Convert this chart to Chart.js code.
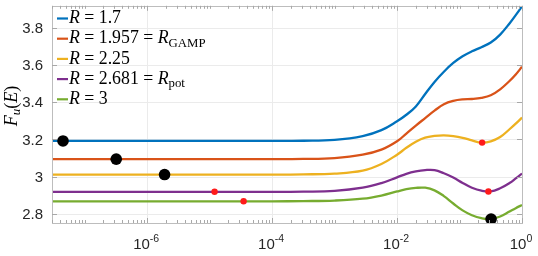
<!DOCTYPE html>
<html>
<head>
<meta charset="utf-8">
<script src="https://cdn.jsdelivr.net/npm/chart.js@4"></script>
<style>
  html, body { margin: 0; padding: 0; background: #fff; }
</style>
</head>
<body>
<canvas id="myChart" width="538" height="256"></canvas>
<script>
// Energy grid (x values) shared by all curves
const energies = [3e-8, 1e-4, 3.16e-4, 1e-3, 2.82e-3, 5.62e-3, 1e-2, 1.41e-2, 2e-2, 2.82e-2, 3.98e-2,
                  5.62e-2, 7.94e-2, 0.112, 0.158, 0.224, 0.316, 0.447, 0.631, 0.794, 1];

// F_u(E) for each R
const fR170  = [3.192, 3.192, 3.193, 3.198, 3.218, 3.250, 3.298, 3.333, 3.378, 3.445, 3.510,
                3.565, 3.612, 3.648, 3.675, 3.697, 3.722, 3.765, 3.825, 3.870, 3.917];
const fR1957 = [3.094, 3.094, 3.095, 3.100, 3.118, 3.145, 3.190, 3.232, 3.275, 3.315, 3.355,
                3.390, 3.408, 3.416, 3.418, 3.424, 3.438, 3.470, 3.515, 3.550, 3.592];
const fR225  = [3.011, 3.011, 3.012, 3.016, 3.032, 3.068, 3.118, 3.155, 3.188, 3.210, 3.219,
                3.222, 3.218, 3.209, 3.195, 3.183, 3.190, 3.213, 3.255, 3.285, 3.318];
const fR2681 = [2.918, 2.918, 2.919, 2.923, 2.940, 2.965, 2.996, 3.015, 3.028, 3.035, 3.035,
                3.018, 2.995, 2.966, 2.940, 2.924, 2.920, 2.937, 2.965, 2.990, 3.016];
const fR3    = [2.867, 2.867, 2.868, 2.871, 2.881, 2.898, 2.920, 2.932, 2.939, 2.940, 2.926,
                2.895, 2.855, 2.818, 2.792, 2.776, 2.771, 2.785, 2.812, 2.830, 2.847];

// marked points
const blackDotE = [4.5e-8, 3.2e-7, 1.9e-6, 0.32];
const blackDotF = [3.192, 3.094, 3.011, 2.771];
const redDotE   = [1.2e-5, 3.5e-5, 0.23, 0.29];
const redDotF   = [2.918, 2.867, 3.183, 2.920];

const seriesColors = ['#0072BD', '#D95319', '#EDB120', '#7E2F8E', '#77AC30'];
const seriesValues = [fR170, fR1957, fR225, fR2681, fR3];

// legend text pieces: [text, italic, subscript]
const legendLabels = [
  [['R', 1, 0], [' = 1.7', 0, 0]],
  [['R', 1, 0], [' = 1.957 = ', 0, 0], ['R', 1, 0], ['GAMP', 0, 1]],
  [['R', 1, 0], [' = 2.25', 0, 0]],
  [['R', 1, 0], [' = 2.681 = ', 0, 0], ['R', 1, 0], ['pot', 0, 1]],
  [['R', 1, 0], [' = 3', 0, 0]]
];
const yTitle = [['F', 1, 0], ['u', 1, 1], ['(', 0, 0], ['E', 1, 0], [')', 0, 0]];

const xLabelExps = [-6, -4, -2, 0];
const yTicks = [2.8, 3, 3.2, 3.4, 3.6, 3.8];

const serif = '"Liberation Serif", "DejaVu Serif", serif';
const sans = '"Liberation Sans", Arial, sans-serif';

function richWidth(ctx, parts, size) {
  let w = 0;
  parts.forEach(p => {
    ctx.font = (p[1] ? 'italic ' : '') + (p[2] ? size * 0.72 : size) + 'px ' + serif;
    w += ctx.measureText(p[0]).width;
  });
  return w;
}

function drawRich(ctx, x, y, parts, size) {
  ctx.textBaseline = 'middle';
  ctx.textAlign = 'left';
  parts.forEach(p => {
    ctx.font = (p[1] ? 'italic ' : '') + (p[2] ? size * 0.72 : size) + 'px ' + serif;
    ctx.fillText(p[0], x, p[2] ? y + size * 0.28 : y);
    x += ctx.measureText(p[0]).width;
  });
}

const axesPlugin = {
  id: 'matlabAxes',
  beforeDraw(chart) {
    const ctx = chart.ctx;
    ctx.save();
    ctx.fillStyle = '#fff';
    ctx.fillRect(0, 0, chart.width, chart.height);
    ctx.restore();
  },
  beforeDatasetsDraw(chart) {
    const { ctx, chartArea: a, scales: { x, y } } = chart;
    ctx.save();
    ctx.strokeStyle = '#ebebeb';
    ctx.lineWidth = 1;
    yTicks.forEach(v => {
      const py = Math.round(y.getPixelForValue(v)) + 0.5;
      ctx.beginPath(); ctx.moveTo(a.left, py); ctx.lineTo(a.right, py); ctx.stroke();
    });
    xLabelExps.forEach(e => {
      const px = Math.round(x.getPixelForValue(Math.pow(10, e))) + 0.5;
      ctx.beginPath(); ctx.moveTo(px, a.top); ctx.lineTo(px, a.bottom); ctx.stroke();
    });
    ctx.restore();
  },
  afterDraw(chart) {
    const { ctx, chartArea: a, scales: { x, y } } = chart;
    ctx.save();
    // box
    ctx.strokeStyle = '#bdbdbd';
    ctx.lineWidth = 1;
    ctx.strokeRect(Math.round(a.left) + 0.5, Math.round(a.top) + 0.5,
                   Math.round(a.right - a.left), Math.round(a.bottom - a.top));
    // x ticks (minor + major), top and bottom
    ctx.strokeStyle = '#a8a8a8';
    for (let e = -8; e <= 0; e++) {
      for (let m = 1; m <= 9; m++) {
        const v = m * Math.pow(10, e);
        if (v < x.min || v > x.max) continue;
        const px = Math.round(x.getPixelForValue(v)) + 0.5;
        const len = (m === 1 && xLabelExps.includes(e)) ? 5 : 3;
        ctx.beginPath();
        ctx.moveTo(px, a.bottom); ctx.lineTo(px, a.bottom - len);
        ctx.moveTo(px, a.top); ctx.lineTo(px, a.top + len);
        ctx.stroke();
      }
    }
    // y ticks left and right
    yTicks.forEach(v => {
      const py = Math.round(y.getPixelForValue(v)) + 0.5;
      ctx.beginPath();
      ctx.moveTo(a.left, py); ctx.lineTo(a.left + 5, py);
      ctx.moveTo(a.right, py); ctx.lineTo(a.right - 5, py);
      ctx.stroke();
    });
    // y tick labels
    ctx.fillStyle = '#262626';
    ctx.font = '15px ' + sans;
    ctx.textAlign = 'right';
    ctx.textBaseline = 'middle';
    yTicks.forEach(v => {
      ctx.fillText(String(v), a.left - 9, y.getPixelForValue(v) + 1);
    });
    // x tick labels 10^e
    xLabelExps.forEach(e => {
      const px = x.getPixelForValue(Math.pow(10, e));
      ctx.font = '15px ' + sans;
      const wBase = ctx.measureText('10').width;
      ctx.font = '10.5px ' + sans;
      const exp = String(e);
      const wExp = ctx.measureText(exp).width;
      const x0 = px - (wBase + wExp) / 2 - 1;
      ctx.textAlign = 'left';
      ctx.textBaseline = 'alphabetic';
      ctx.font = '15px ' + sans;
      ctx.fillText('10', x0, 249);
      ctx.font = '10.5px ' + sans;
      ctx.fillText(exp, x0 + wBase, 242);
    });
    // legend
    ctx.fillStyle = '#000';
    legendLabels.forEach((parts, i) => {
      const ry = 18.5 + i * 20.2;
      ctx.strokeStyle = seriesColors[i];
      ctx.lineWidth = 2.2;
      ctx.beginPath(); ctx.moveTo(57, ry); ctx.lineTo(68, ry); ctx.stroke();
      drawRich(ctx, 69, ry, parts, 17.8);
    });
    // y axis title
    ctx.translate(12, 106);
    ctx.rotate(-Math.PI / 2);
    const tw = richWidth(ctx, yTitle, 18);
    drawRich(ctx, -tw / 2, 0, yTitle, 18);
    ctx.restore();
  }
};

const datasets = [];
datasets.push({
  type: 'scatter',
  data: blackDotE.map((e, i) => ({ x: e, y: blackDotF[i] })),
  pointRadius: 5.8,
  pointBackgroundColor: '#000',
  pointBorderWidth: 0,
  order: 0
});
datasets.push({
  type: 'scatter',
  data: redDotE.map((e, i) => ({ x: e, y: redDotF[i] })),
  pointRadius: 3.2,
  pointBackgroundColor: '#ff1a1a',
  pointBorderWidth: 0,
  order: 0
});
seriesValues.forEach((vals, i) => {
  datasets.push({
    type: 'line',
    data: energies.map((e, j) => ({ x: e, y: vals[j] })),
    borderColor: seriesColors[i],
    borderWidth: 2.3,
    pointRadius: 0,
    tension: 0.4,
    fill: false,
    order: 1 + i
  });
});

const ctx = document.getElementById('myChart').getContext('2d');
const myChart = new Chart(ctx, {
  data: { datasets: datasets },
  options: {
    responsive: false,
    animation: false,
    layout: { padding: { left: 52, right: 16, top: 4, bottom: 33 } },
    plugins: { legend: { display: false }, tooltip: { enabled: false } },
    scales: {
      x: { type: 'logarithmic', min: 3e-8, max: 1, display: false },
      y: { type: 'linear', min: 2.75, max: 3.92, display: false }
    }
  },
  plugins: [axesPlugin]
});
</script>
</body>
</html>
